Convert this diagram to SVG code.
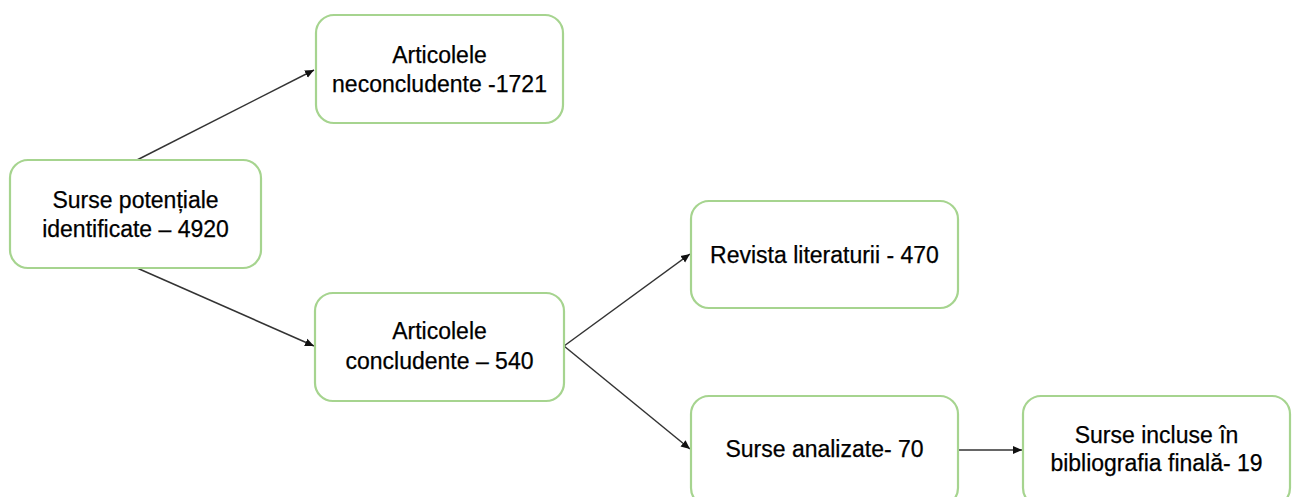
<svg xmlns="http://www.w3.org/2000/svg" width="1293" height="497" viewBox="0 0 1293 497">
<style>
.box{fill:#ffffff;stroke:#a6d48f;stroke-width:2.2}
.t{font-family:"Liberation Sans",Arial,sans-serif;font-size:23px;fill:#000000;text-anchor:middle;stroke:#000000;stroke-width:0.25}
.c{stroke:#333333;stroke-width:1.5;fill:none}
</style>
<defs>
<marker id="ah" markerWidth="10" markerHeight="10" refX="9" refY="5" orient="auto" markerUnits="userSpaceOnUse">
<path d="M0,1 L9,5 L0,9 Z" fill="#111111"/>
</marker>
</defs>
<rect width="1293" height="497" fill="#ffffff"/>
<g id="connectors">
<line class="c" x1="137" y1="160" x2="314" y2="70" marker-end="url(#ah)"/>
<line class="c" x1="137" y1="268" x2="314" y2="346" marker-end="url(#ah)"/>
<line class="c" x1="564" y1="346" x2="690" y2="254" marker-end="url(#ah)"/>
<line class="c" x1="564" y1="346" x2="690" y2="449" marker-end="url(#ah)"/>
<line class="c" x1="958" y1="450" x2="1022" y2="450" marker-end="url(#ah)"/>
</g>
<g id="n1">
<rect class="box" x="10" y="160" width="251" height="108" rx="18"/>
<text class="t" x="135.5" y="208">Surse potențiale</text>
<text class="t" x="135.5" y="237">identificate – 4920</text>
</g>
<g id="n2">
<rect class="box" x="316" y="15" width="247" height="108" rx="18"/>
<text class="t" x="439.5" y="63">Articolele</text>
<text class="t" x="439.5" y="92">neconcludente -1721</text>
</g>
<g id="n3">
<rect class="box" x="315" y="293" width="249" height="108" rx="18"/>
<text class="t" x="439.5" y="339">Articolele</text>
<text class="t" x="439.5" y="369">concludente – 540</text>
</g>
<g id="n4">
<rect class="box" x="691" y="201" width="267" height="107" rx="18"/>
<text class="t" x="824.5" y="263">Revista literaturii - 470</text>
</g>
<g id="n5">
<rect class="box" x="691" y="396" width="267" height="110" rx="18"/>
<text class="t" x="824.5" y="457">Surse analizate- 70</text>
</g>
<g id="n6">
<rect class="box" x="1023" y="396" width="267" height="110" rx="18"/>
<text class="t" x="1156.5" y="443">Surse incluse în</text>
<text class="t" x="1156.5" y="471">bibliografia finală- 19</text>
</g>
</svg>
